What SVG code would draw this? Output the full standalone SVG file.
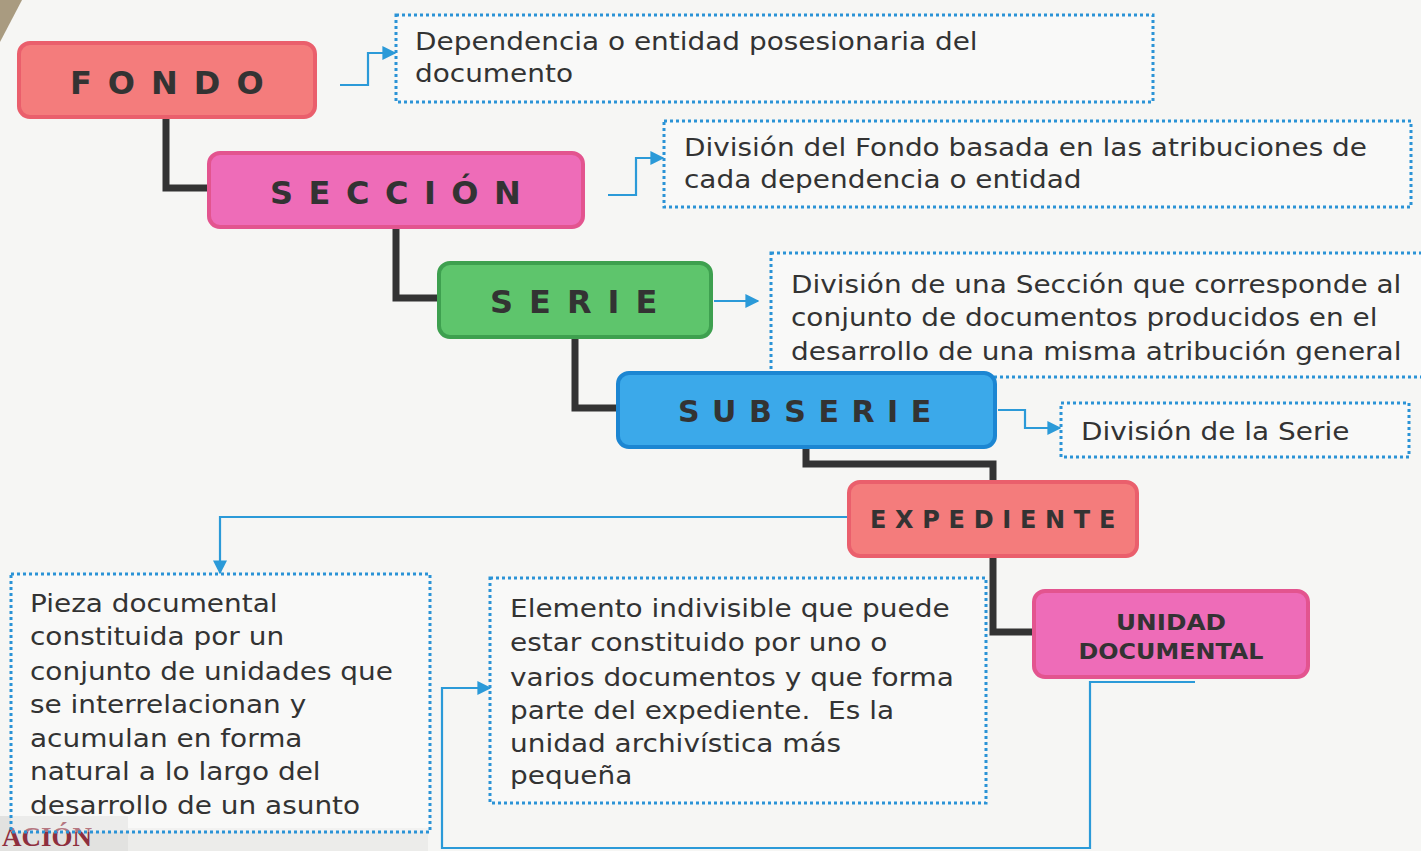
<svg xmlns="http://www.w3.org/2000/svg" width="1421" height="851" viewBox="0 0 1421 851">
<style>
.title{font-family:"DejaVu Sans","Verdana",sans-serif;font-weight:bold;fill:#333333;}
.desc{font-family:"DejaVu Sans","Verdana",sans-serif;font-size:24.5px;fill:#333333;white-space:pre;}
.dot{fill:#ffffff;fill-opacity:0.35;stroke:#2b93d6;stroke-width:3;stroke-dasharray:3 3;}
.tree{fill:none;stroke:#333333;stroke-width:7;}
.blue{fill:none;stroke:#2b9ad8;stroke-width:2.2;}
.salmon{fill:#f47c7c;stroke:#ea5f6c;stroke-width:4;}
.pink{fill:#ee6cb8;stroke:#e3548f;stroke-width:4;}
.green{fill:#5ec56c;stroke:#3ea04f;stroke-width:4;}
.bluebox{fill:#3ba9ea;stroke:#1c86d2;stroke-width:4;}
</style>
<defs>
<marker id="arrow" viewBox="0 0 10 10" refX="9" refY="5" markerWidth="14" markerHeight="14" orient="auto" markerUnits="userSpaceOnUse">
<path d="M0,0 L10,5 L0,10 z" fill="#2b9ad8"/>
</marker>
</defs>
<rect x="0" y="0" width="1421" height="851" fill="#f6f6f4"/>
<polygon points="0,0 22,0 0,42" fill="#a99b80"/>
<rect x="0" y="816" width="128" height="35" fill="#e2e2e0"/>
<rect x="128" y="828" width="300" height="23" fill="#ececea"/>
<text x="2" y="846" font-family="Liberation Serif, serif" font-weight="bold" font-size="27" fill="#8e2f3e">ACIÓN</text>

<g id="connectors">
<path class="tree" d="M166,118 V188 H210"/>
<path class="tree" d="M396,228 V298 H440"/>
<path class="tree" d="M575,338 V408 H619"/>
<path class="tree" d="M806,448 V464 H993 V483"/>
<path class="tree" d="M993,557 V632 H1035"/>
<path class="blue" d="M340,85 H368 V53 H395" marker-end="url(#arrow)"/>
<path class="blue" d="M608,195 H636 V158 H663" marker-end="url(#arrow)"/>
<path class="blue" d="M714,301 H758" marker-end="url(#arrow)"/>
<path class="blue" d="M998,410 H1025 V428 H1060" marker-end="url(#arrow)"/>
<path class="blue" d="M848,517 H220 V573" marker-end="url(#arrow)"/>
<path class="blue" d="M1195,682 H1090 V848 H442 V688 H490" marker-end="url(#arrow)"/>
</g>

<g id="fondo">
<rect class="salmon" x="19" y="43" width="296" height="74" rx="11"/>
<text class="title" x="70" y="94" font-size="32" letter-spacing="16">FONDO</text>
</g>
<g id="fondo-desc">
<rect class="dot" x="396" y="15" width="757" height="87"/>
<g transform="scale(1.14 1)">
<text class="desc" x="364.04" y="50">Dependencia o entidad posesionaria del</text>
<text class="desc" x="364.04" y="82">documento</text>
</g>
</g>

<g id="seccion">
<rect class="pink" x="209" y="153" width="374" height="74" rx="11"/>
<text class="title" x="270" y="204" font-size="32" letter-spacing="15.5">SECCIÓN</text>
</g>
<g id="seccion-desc">
<rect class="dot" x="664" y="121" width="747" height="86"/>
<g transform="scale(1.14 1)">
<text class="desc" x="600" y="156">División del Fondo basada en las atribuciones de</text>
<text class="desc" x="600" y="188">cada dependencia o entidad</text>
</g>
</g>

<g id="serie">
<rect class="green" x="439" y="263" width="272" height="74" rx="11"/>
<text class="title" x="490" y="313" font-size="32" letter-spacing="16">SERIE</text>
</g>
<g id="serie-desc">
<rect class="dot" x="771" y="253" width="660" height="124"/>
<g transform="scale(1.14 1)">
<text class="desc" x="693.86" y="293">División de una Sección que corresponde al</text>
<text class="desc" x="693.86" y="326">conjunto de documentos producidos en el</text>
<text class="desc" x="693.86" y="360">desarrollo de una misma atribución general</text>
</g>
</g>

<g id="subserie">
<rect class="bluebox" x="618" y="373" width="377" height="74" rx="11"/>
<text class="title" x="678" y="422" font-size="30" letter-spacing="12.5">SUBSERIE</text>
</g>
<g id="subserie-desc">
<rect class="dot" x="1061" y="403" width="348" height="54"/>
<g transform="scale(1.14 1)">
<text class="desc" x="948.25" y="440">División de la Serie</text>
</g>
</g>

<g id="expediente">
<rect class="salmon" x="849" y="482" width="288" height="74" rx="11"/>
<text class="title" x="870" y="528" font-size="24" letter-spacing="8.7">EXPEDIENTE</text>
</g>
<g id="expediente-desc">
<rect class="dot" x="11" y="574" width="419" height="258"/>
<g transform="scale(1.14 1)">
<text class="desc" x="26.32" y="612">Pieza documental</text>
<text class="desc" x="26.32" y="645">constituida por un</text>
<text class="desc" x="26.32" y="680">conjunto de unidades que</text>
<text class="desc" x="26.32" y="713">se interrelacionan y</text>
<text class="desc" x="26.32" y="747">acumulan en forma</text>
<text class="desc" x="26.32" y="780">natural a lo largo del</text>
<text class="desc" x="26.32" y="814">desarrollo de un asunto</text>
</g>
</g>

<g id="unidad">
<rect class="pink" x="1034" y="591" width="274" height="86" rx="11"/>
<text class="title" x="1171" y="630" font-size="22" text-anchor="middle" textLength="110" lengthAdjust="spacingAndGlyphs">UNIDAD</text>
<text class="title" x="1171" y="659" font-size="22" text-anchor="middle" textLength="185" lengthAdjust="spacingAndGlyphs">DOCUMENTAL</text>
</g>
<g id="unidad-desc">
<rect class="dot" x="490" y="578" width="496" height="225"/>
<g transform="scale(1.14 1)">
<text class="desc" x="447.37" y="617">Elemento indivisible que puede</text>
<text class="desc" x="447.37" y="651">estar constituido por uno o</text>
<text class="desc" x="447.37" y="686">varios documentos y que forma</text>
<text class="desc" x="447.37" y="719">parte del expediente.  Es la</text>
<text class="desc" x="447.37" y="752">unidad archivística más</text>
<text class="desc" x="447.37" y="784">pequeña</text>
</g>
</g>
</svg>
